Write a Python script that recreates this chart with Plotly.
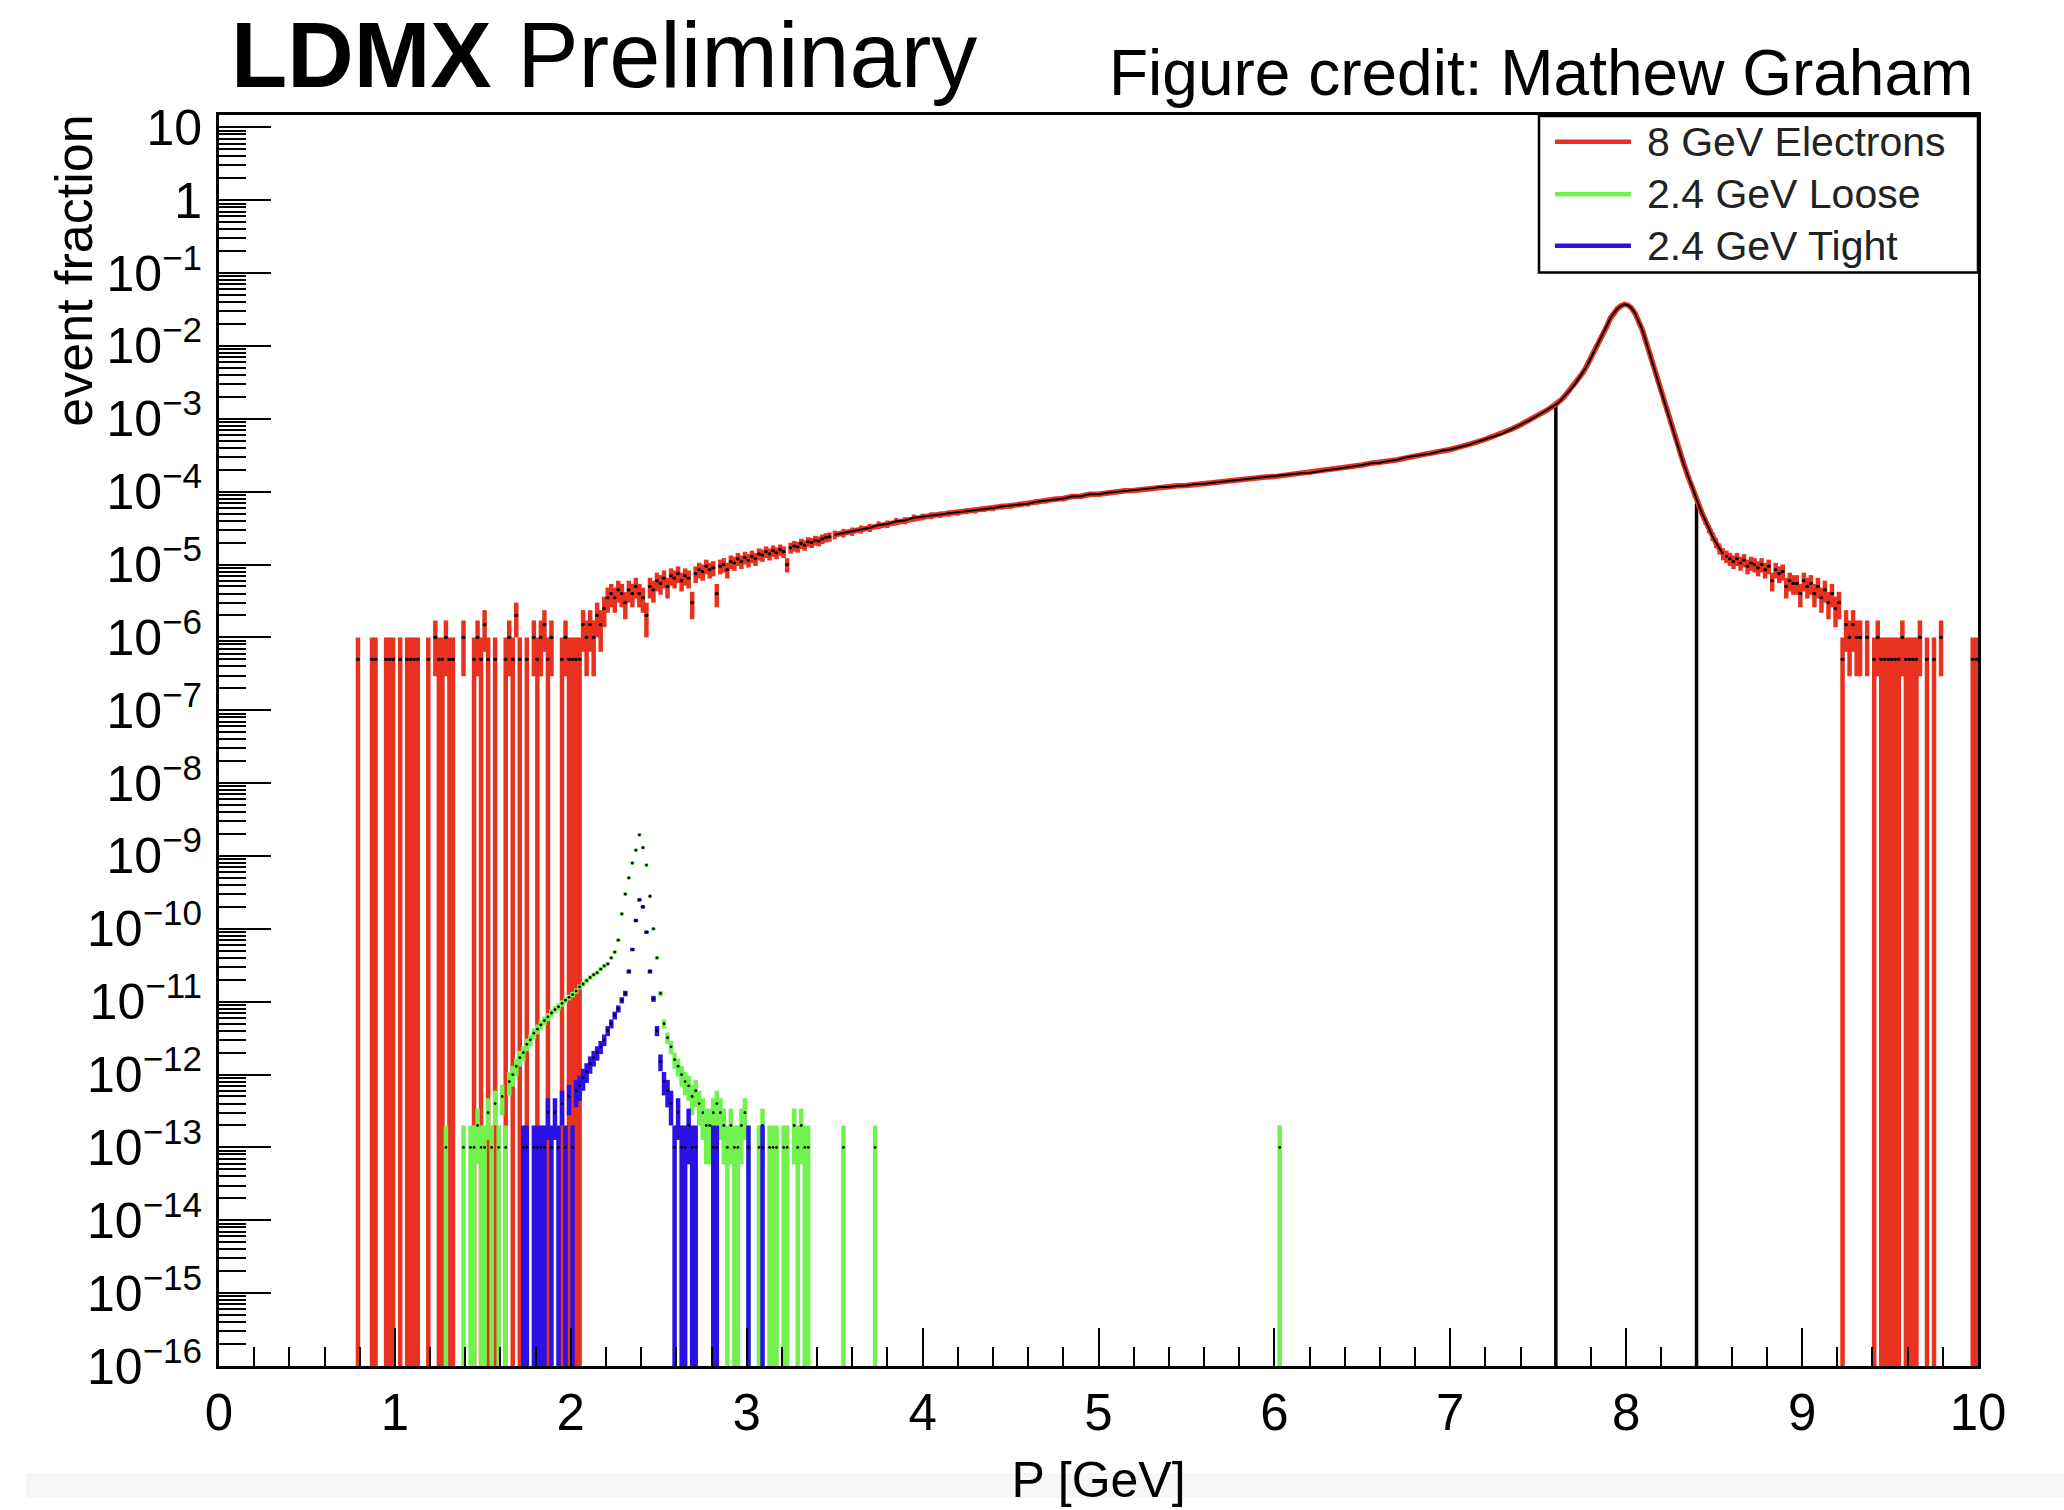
import numpy as np
import plotly.graph_objects as go

# ---------------- data ----------------
RED_W = 5e-7      # event fraction carried by one 8 GeV electron event
SIG_W = 1e-13     # event fraction carried by one 2.4 GeV signal event
BIN_HALF = 0.011  # half of the ~0.02 GeV bin width

# 8 GeV electrons: isolated low-count bins (low side)
red_sparse_lo_x = [0.79, 0.87, 0.89, 0.95, 0.97, 0.99, 1.03, 1.07, 1.09, 1.11, 1.13,
                   1.19, 1.23, 1.25, 1.27, 1.29, 1.31, 1.33, 1.39, 1.45, 1.47, 1.49,
                   1.51, 1.53, 1.57, 1.63, 1.65, 1.67, 1.69, 1.71, 1.75, 1.79, 1.81,
                   1.83, 1.85, 1.87, 1.89, 1.95, 1.97, 1.99, 2.01, 2.03]
red_sparse_lo_val = [5e-7, 5e-7, 5e-7, 5e-7, 5e-7, 5e-7, 5e-7, 5e-7, 5e-7, 5e-7, 5e-7,
                     5e-7, 1e-6, 5e-7, 5e-7, 1e-6, 5e-7, 5e-7, 1e-6, 5e-7, 1e-6, 5e-7,
                     1.5e-6, 5e-7, 5e-7, 5e-7, 1e-6, 5e-7, 2e-6, 5e-7, 5e-7, 1e-6, 5e-7,
                     1e-6, 1.5e-6, 5e-7, 1e-6, 5e-7, 1e-6, 5e-7, 5e-7, 5e-7]

# 8 GeV electrons: noisy rising part, bins from 2.05 GeV every 0.02 GeV (units of 1e-6)
red_noisy_start, red_noisy_step = 2.05, 0.02
red_noisy_val_e6 = [0.5, 1.5, 1.0, 1.5, 1.0, 2.0, 1.5, 2.5, 3.5, 4.0,
                    3.5, 4.5, 4.0, 3.0, 4.5, 4.0, 5.0, 4.0, 3.5, 2.0,
                    5.0, 4.5, 6.0, 5.5, 6.5, 5.0, 7.0, 6.5, 7.5, 6.0,
                    7.0, 6.5, 3.0, 7.5, 8.5, 8.0, 9.5, 8.5, 9.0, 4.0,
                    9.5, 10.0, 8.5, 11.0, 10.5, 12.0, 11.0, 12.5, 11.5, 13.0,
                    12.0, 14.0, 13.5, 15.0, 14.0, 15.5, 14.5, 16.0, 15.0, 10.0,
                    17.0, 18.0, 17.5, 19.5, 18.5, 20.5, 20.0, 21.5, 21.0, 22.5,
                    23.5, 24.0]

# 8 GeV electrons: smooth plateau, read every 0.05 GeV from 3.50 GeV
red_smooth_start, red_smooth_step = 3.50, 0.05
red_smooth_val = [2.57e-5, 2.72e-5, 2.85e-5, 3.05e-5, 3.20e-5, 3.50e-5, 3.60e-5, 3.92e-5, 4.02e-5, 4.40e-5,
                  4.52e-5, 4.72e-5, 4.85e-5, 5.05e-5, 5.20e-5, 5.42e-5, 5.55e-5, 5.80e-5, 5.95e-5, 6.25e-5,
                  6.40e-5, 6.70e-5, 6.85e-5, 7.30e-5, 7.50e-5, 7.85e-5, 8.05e-5, 8.60e-5, 8.65e-5, 9.20e-5,
                  9.25e-5, 9.65e-5, 9.90e-5, 1.03e-4, 1.04e-4, 1.08e-4, 1.11e-4, 1.16e-4, 1.16e-4, 1.21e-4,
                  1.22e-4, 1.27e-4, 1.28e-4, 1.33e-4, 1.37e-4, 1.42e-4, 1.44e-4, 1.49e-4, 1.54e-4, 1.59e-4,
                  1.61e-4, 1.67e-4, 1.73e-4, 1.79e-4, 1.81e-4, 1.92e-4, 1.99e-4, 2.05e-4, 2.13e-4, 2.25e-4,
                  2.33e-4, 2.46e-4, 2.50e-4, 2.64e-4, 2.74e-4, 2.96e-4, 3.08e-4, 3.25e-4, 3.38e-4, 3.64e-4,
                  3.79e-4, 4.08e-4, 4.36e-4, 4.80e-4, 5.24e-4, 5.76e-4, 6.30e-4, 7.25e-4, 8.30e-4, 9.55e-4,
                  1.12e-3]

# 8 GeV electrons: beam peak, bins every 0.02 GeV from 7.55 GeV
red_peak_start, red_peak_step = 7.55, 0.02
red_peak_val = [1.32e-3, 1.41e-3, 1.51e-3, 1.62e-3, 1.82e-3, 2.04e-3, 2.34e-3, 2.63e-3, 3.02e-3, 3.55e-3,
                4.17e-3, 5.01e-3, 6.17e-3, 7.76e-3, 9.77e-3, 1.20e-2, 1.51e-2, 1.86e-2, 2.40e-2, 2.82e-2,
                3.24e-2, 3.55e-2, 3.72e-2, 3.63e-2, 3.31e-2, 2.82e-2, 2.24e-2, 1.70e-2, 1.20e-2, 8.32e-3,
                5.62e-3, 3.80e-3, 2.63e-3, 1.82e-3, 1.26e-3, 8.91e-4, 6.31e-4, 4.47e-4, 3.16e-4, 2.29e-4,
                1.66e-4, 1.20e-4, 8.91e-5, 6.76e-5, 5.13e-5, 3.98e-5, 3.09e-5, 2.45e-5, 2.00e-5, 1.66e-5,
                1.41e-5]

# 8 GeV electrons: high-side tail, bins every 0.02 GeV from 8.57 GeV (units of 1e-6)
red_tail_start, red_tail_step = 8.57, 0.02
red_tail_val_e6 = [13.0, 12.0, 11.0, 12.0, 10.5, 11.5, 9.5, 10.5, 10.0, 9.0,
                   10.0, 8.5, 9.5, 6.0, 8.5, 7.5, 8.0, 5.0, 6.0, 5.5,
                   5.5, 4.0, 6.0, 5.0, 5.5, 4.0, 5.0, 3.5, 4.5, 3.0,
                   4.0, 2.5, 3.0]

# 8 GeV electrons: isolated low-count bins (high side)
red_sparse_hi_x = [9.23, 9.25, 9.27, 9.29, 9.31, 9.33, 9.37, 9.41, 9.43, 9.45, 9.47, 9.49,
                   9.51, 9.53, 9.55, 9.57, 9.59, 9.61, 9.63, 9.65, 9.67, 9.71, 9.75, 9.79,
                   9.97, 9.99]
red_sparse_hi_val = [5e-7, 1.5e-6, 1e-6, 1.5e-6, 1e-6, 1e-6, 1e-6, 5e-7, 1e-6, 5e-7, 5e-7, 5e-7,
                     5e-7, 5e-7, 5e-7, 1e-6, 5e-7, 5e-7, 5e-7, 5e-7, 1e-6, 5e-7, 5e-7, 1e-6,
                     5e-7, 5e-7]

# momentum window edges and the curve height at each edge
window_x = [7.6, 8.4]
window_top = [1.58e-3, 6.9e-5]

# 2.4 GeV Loose: bins every 0.02 GeV from 1.51 GeV (units of 1e-13)
green_start, green_step = 1.51, 0.02
green_val_e13 = [1, 3, 1, 4, 1, 5, 1, 8, 10, 13,
                 17, 20, 26, 30, 37, 42, 48, 55, 62, 70,
                 78, 85, 95, 105, 115, 125, 140, 160, 175, 195,
                 215, 235, 250, 280, 310, 330, 400, 480, 700, 1600,
                 3000, 5000, 8000, 12000, 19500, 13000, 7500, 2800, 1000, 400,
                 130, 50, 32, 24, 16, 13, 10, 8, 7, 5,
                 6, 4]
green_sparse_x = [1.29, 1.39, 1.43, 1.45, 1.47, 1.49, 2.75, 2.77, 2.79, 2.81, 2.83, 2.85,
                  2.87, 2.89, 2.91, 2.93, 2.95, 2.97, 2.99, 3.01, 3.07, 3.09, 3.13, 3.15,
                  3.17, 3.21, 3.23, 3.27, 3.29, 3.31, 3.33, 3.35, 3.55, 3.73, 6.03]
green_sparse_e13 = [1, 1, 1, 1, 2, 1, 3, 2, 2, 3, 4, 3,
                    2, 1, 2, 1, 1, 2, 3, 1, 1, 2, 1, 1,
                    1, 1, 1, 2, 1, 2, 1, 1, 1, 1, 1]

# 2.4 GeV Tight: bins every 0.02 GeV from 1.85 GeV (units of 1e-13)
blue_start, blue_step = 1.85, 0.02
blue_val_e13 = [1, 3, 1, 3, 1, 4, 1, 5, 1, 6,
                7, 9, 11, 14, 17, 20, 24, 30, 40, 50,
                65, 80, 105, 130, 260, 520, 1300, 2500, 2000, 900,
                260, 110, 40, 15, 8, 6, 4, 1, 3, 1,
                1, 2, 1, 1]
blue_sparse_x = [1.73, 1.75, 1.79, 1.81, 1.83, 2.81, 2.83, 3.01, 3.09]
blue_sparse_e13 = [1, 1, 1, 1, 1, 1, 1, 1, 1]

legend_labels = ["8 GeV Electrons", "2.4 GeV Loose", "2.4 GeV Tight"]

y_tick_vals = [1e-16, 1e-15, 1e-14, 1e-13, 1e-12, 1e-11, 1e-10, 1e-9, 1e-8,
               1e-7, 1e-6, 1e-5, 1e-4, 1e-3, 1e-2, 1e-1, 1, 10]
y_tick_text = ["10<sup>\u221216</sup>", "10<sup>\u221215</sup>", "10<sup>\u221214</sup>",
               "10<sup>\u221213</sup>", "10<sup>\u221212</sup>", "10<sup>\u221211</sup>",
               "10<sup>\u221210</sup>", "10<sup>\u22129</sup>", "10<sup>\u22128</sup>",
               "10<sup>\u22127</sup>", "10<sup>\u22126</sup>", "10<sup>\u22125</sup>",
               "10<sup>\u22124</sup>", "10<sup>\u22123</sup>", "10<sup>\u22122</sup>",
               "10<sup>\u22121</sup>", "1", "10"]
x_tick_vals = [0, 1, 2, 3, 4, 5, 6, 7, 8, 9, 10]
x_tick_text = ["0", "1", "2", "3", "4", "5", "6", "7", "8", "9", "10"]

# ---------------- style ----------------
RED = "#e8321f"
GREEN = "#72f24f"
BLUE = "#2a12e6"
FONT = "Liberation Sans, Arial, Helvetica, sans-serif"

W, H = 2064, 1510
PL, PR, PT, PB = 219, 1978, 115, 1377     # plot-area box in page pixels


def pxx(p):
    return (p - PL) / (PR - PL)


def pxy(p):
    return (PB - p) / (PB - PT)


def bins(start, step, n):
    return np.round(start + step * np.arange(n), 4)


def errs(vals, w):
    v = np.asarray(vals, dtype=float)
    e = np.sqrt(v * w)
    lo = np.maximum(v - e, 1e-18)
    return e, v - lo


fig = go.Figure()


def add_points(x, v, w, color, thick, xcolor, msize=3.2, xthick=2.5):
    up, dn = errs(v, w)
    fig.add_trace(go.Scatter(
        x=list(x), y=list(v), mode="markers",
        marker=dict(color="black", size=msize, symbol="circle", line=dict(width=0)),
        error_y=dict(type="data", symmetric=False, array=up, arrayminus=dn,
                     color=color, thickness=thick, width=0),
        error_x=dict(type="constant", value=BIN_HALF, color=xcolor, thickness=xthick, width=0),
        showlegend=False, hoverinfo="skip"))


# momentum window edges
wx, wy = [], []
for xe, top in zip(window_x, window_top):
    wx += [xe, xe, None]
    wy += [1e-16, top, None]
fig.add_trace(go.Scatter(x=wx, y=wy, mode="lines", line=dict(color="black", width=3.5),
                         showlegend=False, hoverinfo="skip"))

# red: sparse & noisy bins as error bars
add_points(red_sparse_lo_x, red_sparse_lo_val, RED_W, RED, 4.5, "black", xthick=2)
add_points(bins(red_noisy_start, red_noisy_step, len(red_noisy_val_e6)),
           np.array(red_noisy_val_e6) * 1e-6, RED_W, RED, 4.5, "black", xthick=2)
add_points(bins(red_tail_start, red_tail_step, len(red_tail_val_e6)),
           np.array(red_tail_val_e6) * 1e-6, RED_W, RED, 4.5, "black", xthick=2)
add_points(red_sparse_hi_x, red_sparse_hi_val, RED_W, RED, 4.5, "black", xthick=2)

# red: high-statistics part as a continuous curve
sx = np.concatenate([bins(red_smooth_start, red_smooth_step, len(red_smooth_val)),
                     bins(red_peak_start, red_peak_step, len(red_peak_val))])
sv = np.concatenate([red_smooth_val, red_peak_val])
up, dn = errs(sv, RED_W)
fig.add_trace(go.Scatter(x=sx, y=sv, mode="lines", line=dict(color=RED, width=5.5),
                         error_y=dict(type="data", symmetric=False, array=up, arrayminus=dn,
                                      color=RED, thickness=4, width=0),
                         showlegend=False, hoverinfo="skip"))
fig.add_trace(go.Scatter(x=sx, y=sv, mode="lines", line=dict(color="black", width=2),
                         showlegend=False, hoverinfo="skip"))

# green (Loose)
add_points(green_sparse_x, np.array(green_sparse_e13) * 1e-13, SIG_W, GREEN, 4.5, GREEN,
           msize=2.8, xthick=3.5)
add_points(bins(green_start, green_step, len(green_val_e13)),
           np.array(green_val_e13) * 1e-13, SIG_W, GREEN, 4.5, GREEN, msize=2.8, xthick=3.5)
# blue (Tight)
add_points(blue_sparse_x, np.array(blue_sparse_e13) * 1e-13, SIG_W, BLUE, 4.5, BLUE,
           msize=2.8, xthick=3.5)
add_points(bins(blue_start, blue_step, len(blue_val_e13)),
           np.array(blue_val_e13) * 1e-13, SIG_W, BLUE, 4.5, BLUE, msize=2.8, xthick=3.5)

# ---------------- axes ----------------
y_minor = [m * t for t in y_tick_vals[:-1] for m in range(2, 10)]
x_minor = [round(i * 0.2, 2) for i in range(51) if i % 5 != 0]

fig.update_xaxes(
    range=[0, 10], tickmode="array", tickvals=x_tick_vals, ticktext=x_tick_text,
    ticks="inside", ticklen=38, tickwidth=2, tickcolor="black",
    minor=dict(tickmode="array", tickvals=x_minor, ticks="inside", ticklen=19,
               tickwidth=2, tickcolor="black", showgrid=False),
    showline=True, linecolor="black", linewidth=3, mirror=True,
    showgrid=False, zeroline=False,
    tickfont=dict(family=FONT, size=51, color="black"), ticklabelstandoff=0,
    title=dict(text="P [GeV]", font=dict(family=FONT, size=50, color="black"), standoff=22))

fig.update_yaxes(
    type="log", range=[-16, 1.17], tickmode="array", tickvals=y_tick_vals, ticktext=y_tick_text,
    ticks="inside", ticklen=52, tickwidth=2, tickcolor="black",
    minor=dict(tickmode="array", tickvals=y_minor, ticks="inside", ticklen=27,
               tickwidth=2, tickcolor="black", showgrid=False),
    showline=True, linecolor="black", linewidth=3, mirror=True,
    showgrid=False, zeroline=False,
    tickfont=dict(family=FONT, size=50, color="black"), ticklabelstandoff=4)

# ---------------- annotations & manual legend ----------------
annotations = [
    dict(text="<b>LDMX</b> Preliminary", x=pxx(229), y=pxy(54), xref="paper", yref="paper",
         xanchor="left", yanchor="middle", showarrow=False,
         font=dict(family=FONT, size=92, color="black")),
    dict(text="Figure credit: Mathew Graham", x=pxx(1975), y=pxy(73), xref="paper", yref="paper",
         xanchor="right", yanchor="middle", showarrow=False,
         font=dict(family=FONT, size=64, color="black")),
    dict(text="event fraction", x=pxx(74), y=pxy(272), xref="paper", yref="paper",
         xanchor="center", yanchor="middle", textangle=-90, showarrow=False,
         font=dict(family=FONT, size=52, color="black")),
]
shapes = [
    dict(type="rect", xref="paper", yref="paper", x0=pxx(26), x1=pxx(W),
         y0=pxy(1485), y1=pxy(H), fillcolor="#f6f6f6", line=dict(width=0), layer="below"),
    dict(type="rect", xref="paper", yref="paper", x0=pxx(1539), x1=pxx(1978),
         y0=pxy(274), y1=pxy(116), fillcolor="white", line=dict(color="black", width=2.5),
         layer="above"),
]
legend_y = [142, 195, 247]
for lab, col, ly in zip(legend_labels, [RED, GREEN, BLUE], legend_y):
    shapes.append(dict(type="line", xref="paper", yref="paper", x0=pxx(1555), x1=pxx(1631),
                       y0=pxy(ly), y1=pxy(ly), line=dict(color=col, width=4.5), layer="above"))
    annotations.append(dict(text=lab, x=pxx(1645), y=pxy(ly), xref="paper", yref="paper",
                            xanchor="left", yanchor="middle", showarrow=False,
                            font=dict(family=FONT, size=41, color="#222222")))

fig.update_layout(
    width=W, height=H,
    margin=dict(l=PL, r=W - PR, t=PT, b=H - PB, pad=0),
    paper_bgcolor="white", plot_bgcolor="white",
    showlegend=False,
    annotations=annotations, shapes=shapes,
    font=dict(family=FONT, color="black"),
)

# place the figure flush with the page corner (no default body margin), no mode bar
fig.write_html("out.html",
               config={"displayModeBar": False},
               post_script="document.body.style.margin='0';document.body.style.overflow='hidden';")
